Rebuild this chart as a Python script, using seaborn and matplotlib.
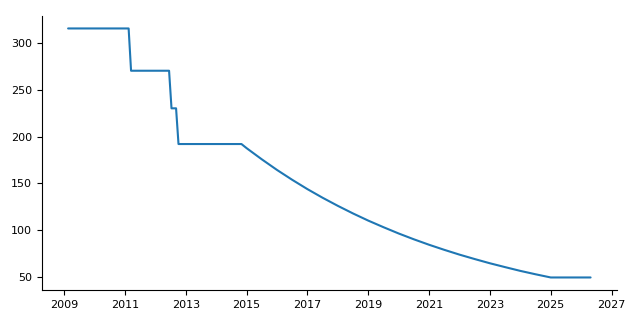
import matplotlib
matplotlib.use("Agg")
import matplotlib.pyplot as plt
import seaborn as sns
import pandas as pd

years = [2009.13, 2011.12, 2011.20, 2012.45, 2012.53, 2012.68, 2012.76, 2014.83,
         2015.0, 2015.5, 2016.0, 2016.5, 2017.0, 2017.5, 2018.0, 2018.5,
         2019.0, 2019.5, 2020.0, 2020.5, 2021.0, 2021.5, 2022.0, 2022.5,
         2023.0, 2023.5, 2024.0, 2024.5, 2025.0, 2026.31]
values = [315, 315, 270, 270, 230, 230, 192, 192,
          187.6, 175.7, 164.4, 153.9, 144.0, 134.8, 126.2, 118.1,
          110.5, 103.5, 96.8, 90.6, 84.8, 79.4, 74.3, 69.6,
          65.1, 61.0, 57.0, 53.4, 50, 50]
xticks = [2009, 2011, 2013, 2015, 2017, 2019, 2021, 2023, 2025, 2027]
yticks = [50, 100, 150, 200, 250, 300]

df = pd.DataFrame({"year": years, "value": values})

sns.set_style("ticks", {"axes.edgecolor": "black", "text.color": "black",
                        "xtick.color": "black", "ytick.color": "black"})
fig = plt.figure(figsize=(6.4, 3.2), dpi=100)
ax = fig.add_axes([0.0656, 0.094, 0.898, 0.856])
sns.lineplot(data=df, x="year", y="value", ax=ax, color="#1f77b4", linewidth=1.5)
ax.set_xticks(xticks)
ax.set_xticklabels([str(t) for t in xticks])
ax.set_yticks(yticks)
ax.set_xlabel("")
ax.set_ylabel("")
ax.tick_params(labelsize=8, colors="black")
sns.despine(ax=ax)
fig.savefig("out.png", dpi=100)
